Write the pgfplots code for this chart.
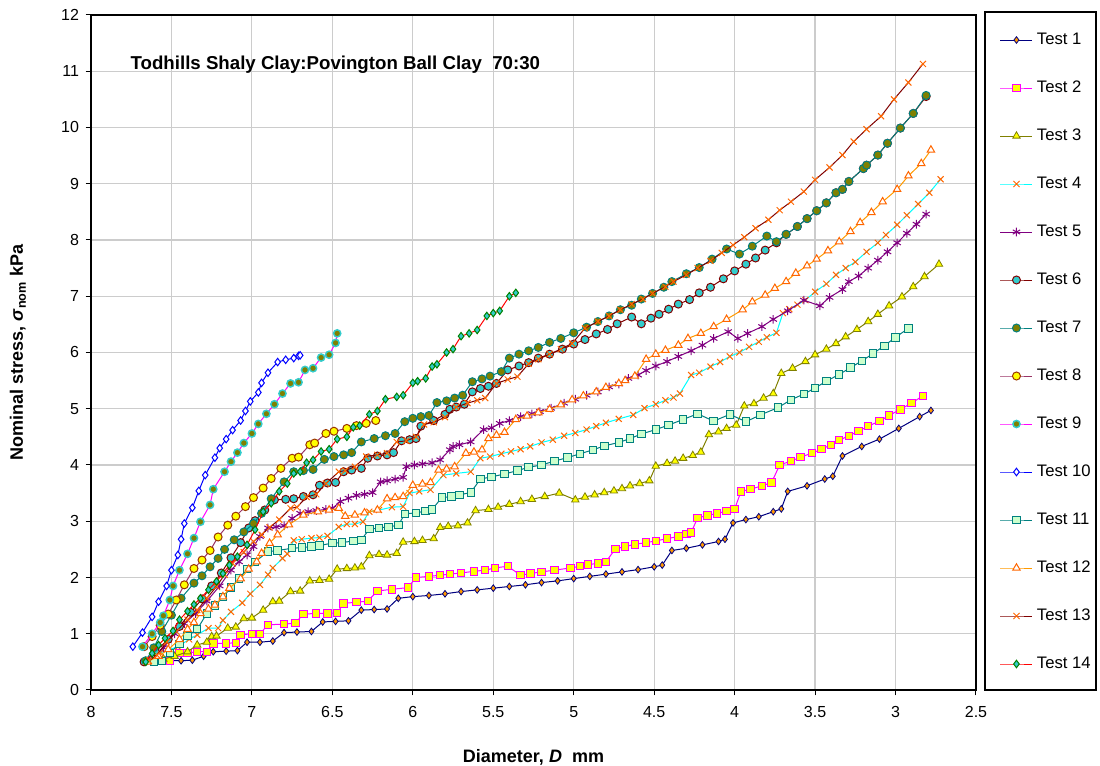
\documentclass[border=0pt]{standalone}
\usepackage{fontspec}
\setmainfont{Liberation Sans}
\usepackage{pgfplots}
\pgfplotsset{compat=1.18}

\definecolor{cNavy}{HTML}{000080}
\definecolor{cOrange}{HTML}{FF9900}
\definecolor{cRedOr}{HTML}{FF6600}
\definecolor{cMagenta}{HTML}{FF00FF}
\definecolor{cYellow}{HTML}{FFFF00}
\definecolor{cOlive}{HTML}{808000}
\definecolor{cCyan}{HTML}{00FFFF}
\definecolor{cPurple}{HTML}{800080}
\definecolor{cDarkRed}{HTML}{800000}
\definecolor{cTeal}{HTML}{008080}
\definecolor{cTurq}{HTML}{33CCCC}
\definecolor{cBrown}{HTML}{993300}
\definecolor{cPlum}{HTML}{993366}
\definecolor{cBlue}{HTML}{0000FF}
\definecolor{cLtGreen}{HTML}{CCFFCC}
\definecolor{cRed}{HTML}{FF0000}
\definecolor{cGreen}{HTML}{008000}

\begin{document}
\begin{tikzpicture}
\useasboundingbox (-68.25pt,-57pt) rectangle (756.75pt,517.5pt);
\begin{axis}[
    scale only axis,
    width=663.75pt, height=506.25pt,
    x dir=reverse,
    xmin=2.5, xmax=8, ymin=0, ymax=12,
    xtick={2.5,3,...,8}, ytick={0,1,...,12},
    /pgf/number format/assume math mode=true,
    tick label style={font=\fontsize{12}{14}\selectfont},
    xticklabel style={yshift=-5pt},
    yticklabel style={xshift=-1.5pt},
    tick align=outside, tick pos=left,
    major tick length=4pt,
    tick style={black, line width=0.75pt},
    axis line style={line width=1.5pt},
    grid=major,
    grid style={gray!40, line width=0.9pt},
    clip mode=individual,
    every axis y label/.style={at={(axis description cs:-0.0825,0.5)}, rotate=90, anchor=center},
    every axis x label/.style={at={(axis description cs:0.5,-0.0993)}, anchor=center},
    label style={font=\fontsize{13.5}{15}\selectfont\bfseries},
    xlabel={Diameter, \textit{D}\ \ mm},
    ylabel={Nominal stress, \textit{σ}\textsubscript{nom} kPa},
    legend style={draw=none, fill=none, at={(rel axis cs:1.0271,0.9748)}, anchor=north west,
        inner sep=0pt, outer sep=0pt, row sep=24pt, column sep=3pt,
        font=\fontsize{12.5}{14}\selectfont,
        nodes={inner sep=0pt, text height=9pt, text depth=3pt}},
    legend cell align=left,
    legend image code/.code={\draw[mark repeat=2,mark phase=2] plot coordinates {(0pt,0pt) (12pt,0pt) (24pt,0pt)};},
    every axis plot/.append style={line width=0.75pt},
]
% Test 1
\addplot[cNavy, mark=diamond*, mark size=2.5pt, mark options={fill=cOrange, draw=cNavy, line width=0.6pt}] coordinates {
(7.52,0.52) (7.44,0.52) (7.37,0.53) (7.30,0.60) (7.24,0.68) (7.16,0.69) (7.09,0.70) (7.03,0.85) (6.95,0.85) (6.87,0.87)
(6.80,1.02) (6.72,1.03) (6.63,1.04) (6.56,1.21) (6.48,1.22) (6.40,1.23) (6.32,1.42) (6.24,1.43) (6.16,1.44) (6.09,1.63)
(6.00,1.66) (5.90,1.68) (5.80,1.71) (5.70,1.75) (5.60,1.78) (5.50,1.81) (5.40,1.84) (5.30,1.87) (5.20,1.91) (5.10,1.94)
(5.00,1.98) (4.90,2.02) (4.80,2.06) (4.70,2.10) (4.60,2.14) (4.50,2.19) (4.45,2.22) (4.39,2.48) (4.30,2.52) (4.20,2.58)
(4.10,2.64) (4.06,2.68) (4.01,2.97) (3.93,3.03) (3.85,3.08) (3.76,3.17) (3.71,3.22) (3.67,3.53) (3.55,3.63) (3.44,3.75)
(3.39,3.80) (3.33,4.16) (3.21,4.33) (3.10,4.46) (2.98,4.65) (2.85,4.86) (2.78,4.97)};
\addlegendentry{Test 1}
% Test 2
\addplot[cMagenta, mark=square*, mark size=2.8pt, mark options={fill=cYellow, draw=cMagenta, line width=0.75pt}] coordinates {
(7.51,0.52) (7.45,0.66) (7.40,0.66) (7.34,0.68) (7.28,0.68) (7.24,0.83) (7.16,0.83) (7.10,0.84) (7.07,0.98) (7.00,1.00)
(6.95,1.00) (6.90,1.16) (6.80,1.17) (6.73,1.19) (6.68,1.35) (6.60,1.36) (6.53,1.36) (6.47,1.37) (6.43,1.54) (6.35,1.56)
(6.28,1.58) (6.22,1.76) (6.13,1.79) (6.03,1.82) (5.98,2.00) (5.90,2.02) (5.83,2.04) (5.77,2.06) (5.70,2.08) (5.62,2.11)
(5.55,2.13) (5.49,2.17) (5.41,2.20) (5.33,2.04) (5.27,2.07) (5.20,2.10) (5.12,2.13) (5.02,2.17) (4.96,2.20) (4.91,2.23)
(4.85,2.25) (4.80,2.28) (4.74,2.51) (4.68,2.55) (4.62,2.59) (4.55,2.62) (4.49,2.65) (4.42,2.69) (4.35,2.73) (4.30,2.77)
(4.27,2.80) (4.23,3.06) (4.17,3.10) (4.11,3.14) (4.05,3.18) (4.00,3.22) (3.96,3.53) (3.90,3.57) (3.83,3.63) (3.77,3.69)
(3.72,4.00) (3.65,4.07) (3.59,4.14) (3.52,4.21) (3.46,4.28) (3.40,4.36) (3.35,4.44) (3.29,4.52) (3.23,4.60) (3.17,4.69)
(3.10,4.78) (3.04,4.88) (2.97,4.99) (2.90,5.10) (2.83,5.23)};
\addlegendentry{Test 2}
% Test 3
\addplot[cOlive, mark=triangle*, mark size=3.2pt, mark options={fill=cYellow, draw=cOlive, line width=0.6pt}] coordinates {
(7.62,0.52) (7.55,0.55) (7.48,0.60) (7.40,0.68) (7.34,0.80) (7.28,0.85) (7.25,0.95) (7.22,0.96) (7.15,1.10) (7.10,1.12)
(7.05,1.27) (7.00,1.28) (6.93,1.42) (6.87,1.57) (6.83,1.58) (6.76,1.75) (6.70,1.76) (6.64,1.94) (6.58,1.95) (6.52,1.97)
(6.47,2.15) (6.41,2.16) (6.36,2.17) (6.32,2.19) (6.27,2.39) (6.21,2.41) (6.16,2.40) (6.10,2.43) (6.06,2.63) (5.99,2.64)
(5.94,2.66) (5.87,2.69) (5.83,2.89) (5.78,2.91) (5.72,2.92) (5.66,2.97) (5.61,3.19) (5.53,3.21) (5.47,3.25) (5.40,3.30)
(5.33,3.35) (5.26,3.39) (5.18,3.44) (5.09,3.50) (4.99,3.38) (4.93,3.43) (4.87,3.47) (4.81,3.51) (4.75,3.54) (4.70,3.58)
(4.65,3.63) (4.59,3.67) (4.53,3.72) (4.49,3.98) (4.42,4.03) (4.37,4.07) (4.32,4.12) (4.26,4.17) (4.21,4.23) (4.16,4.54)
(4.10,4.59) (4.05,4.65) (3.99,4.71) (3.94,5.05) (3.88,5.09) (3.82,5.19) (3.76,5.27) (3.71,5.63) (3.64,5.72) (3.56,5.84)
(3.50,5.96) (3.43,6.06) (3.37,6.16) (3.31,6.28) (3.24,6.41) (3.17,6.55) (3.11,6.68) (3.04,6.83) (2.96,6.99) (2.89,7.17)
(2.82,7.35) (2.73,7.57)};
\addlegendentry{Test 3}
% Test 4
\addplot[cCyan, mark=x, mark size=3.2pt, mark options={draw=cRedOr, line width=0.75pt}] coordinates {
(7.62,0.52) (7.57,0.66) (7.46,0.77) (7.39,0.90) (7.34,0.98) (7.27,1.10) (7.21,1.10) (7.18,1.24) (7.13,1.39) (7.06,1.55)
(7.01,1.71) (6.95,1.87) (6.90,2.05) (6.87,2.17) (6.81,2.34) (6.78,2.42) (6.74,2.66) (6.69,2.68) (6.63,2.70) (6.58,2.71)
(6.53,2.74) (6.46,2.90) (6.41,2.95) (6.36,2.95) (6.31,2.99) (6.27,3.17) (6.21,3.20) (6.13,3.25) (6.06,3.26) (6.02,3.50)
(5.96,3.53) (5.89,3.56) (5.81,3.82) (5.73,3.85) (5.64,3.88) (5.58,4.12) (5.52,4.15) (5.45,4.20) (5.39,4.24) (5.33,4.28)
(5.27,4.33) (5.20,4.40) (5.13,4.45) (5.06,4.52) (4.99,4.57) (4.92,4.63) (4.86,4.69) (4.80,4.75) (4.72,4.82) (4.63,4.89)
(4.56,5.01) (4.49,5.08) (4.43,5.15) (4.38,5.20) (4.34,5.27) (4.27,5.60) (4.22,5.64) (4.15,5.75) (4.09,5.83) (4.03,5.93)
(3.97,6.00) (3.91,6.10) (3.85,6.19) (3.80,6.27) (3.74,6.35) (3.70,6.70) (3.66,6.77) (3.61,6.85) (3.56,6.93) (3.50,7.08)
(3.43,7.22) (3.37,7.38) (3.31,7.50) (3.25,7.61) (3.18,7.79) (3.11,7.95) (3.06,8.09) (2.99,8.27) (2.93,8.44) (2.86,8.64)
(2.79,8.84) (2.72,9.08)};
\addlegendentry{Test 4}
% Test 5
\addplot[cPurple, mark=asterisk, mark size=3.2pt, mark options={draw=cPurple, line width=0.75pt}] coordinates {
(7.62,0.55) (7.55,0.75) (7.48,1.00) (7.42,1.18) (7.35,1.36) (7.28,1.58) (7.20,1.85) (7.13,2.13) (7.08,2.28) (7.03,2.40)
(6.99,2.55) (6.95,2.73) (6.90,2.88) (6.85,2.90) (6.80,2.92) (6.75,3.05) (6.70,3.14) (6.65,3.17) (6.60,3.19) (6.54,3.21)
(6.50,3.23) (6.45,3.35) (6.40,3.41) (6.35,3.46) (6.30,3.48) (6.25,3.51) (6.20,3.70) (6.16,3.72) (6.11,3.75) (6.06,3.78)
(6.04,3.97) (5.99,4.00) (5.94,4.02) (5.88,4.04) (5.83,4.09) (5.77,4.27) (5.75,4.33) (5.71,4.36) (5.64,4.41) (5.56,4.63)
(5.51,4.66) (5.46,4.74) (5.40,4.79) (5.33,4.86) (5.26,4.91) (5.21,4.95) (5.14,5.01) (5.06,5.10) (4.99,5.17) (4.92,5.24)
(4.85,5.30) (4.78,5.39) (4.72,5.44) (4.66,5.54) (4.60,5.60) (4.55,5.68) (4.49,5.76) (4.42,5.84) (4.35,5.93) (4.27,6.03)
(4.20,6.13) (4.13,6.25) (4.04,6.37) (3.98,6.25) (3.92,6.34) (3.83,6.46) (3.76,6.59) (3.67,6.74) (3.57,6.93) (3.47,6.83)
(3.41,6.98) (3.33,7.12) (3.29,7.26) (3.23,7.36) (3.17,7.50) (3.11,7.64) (3.05,7.79) (2.99,7.95) (2.93,8.12) (2.87,8.28)
(2.81,8.46)};
\addlegendentry{Test 5}
% Test 6
\addplot[cDarkRed, mark=*, mark size=3pt, mark options={fill=cTurq, draw=cDarkRed, line width=0.75pt}] coordinates {
(7.67,0.50) (7.60,0.68) (7.52,0.90) (7.45,1.13) (7.38,1.38) (7.31,1.62) (7.25,1.85) (7.19,2.08) (7.13,2.35) (7.07,2.62)
(7.02,2.88) (6.98,3.01) (6.92,3.20) (6.86,3.38) (6.79,3.39) (6.74,3.40) (6.68,3.44) (6.62,3.47) (6.58,3.64) (6.53,3.68)
(6.48,3.69) (6.43,3.88) (6.38,3.91) (6.32,3.94) (6.28,4.12) (6.22,4.16) (6.16,4.18) (6.12,4.22) (6.07,4.43) (6.02,4.45)
(5.98,4.47) (5.95,4.69) (5.87,4.79) (5.80,4.90) (5.77,4.99) (5.73,5.03) (5.68,5.08) (5.63,5.30) (5.58,5.36) (5.53,5.40)
(5.48,5.45) (5.41,5.69) (5.34,5.76) (5.28,5.82) (5.22,5.90) (5.15,5.97) (5.07,6.06) (5.00,6.15) (4.93,6.23) (4.86,6.33)
(4.79,6.41) (4.73,6.51) (4.64,6.63) (4.58,6.51) (4.52,6.61) (4.47,6.68) (4.41,6.77) (4.35,6.86) (4.28,6.94) (4.22,7.06)
(4.15,7.16) (4.07,7.31) (4.00,7.45) (3.93,7.57) (3.87,7.68) (3.81,7.82) (3.74,7.95) (3.68,8.10) (3.61,8.24) (3.55,8.38)
(3.49,8.52) (3.43,8.66) (3.37,8.84) (3.33,8.90) (3.29,9.04) (3.20,9.27) (3.18,9.33) (3.11,9.51) (3.05,9.72) (2.97,9.99)
(2.89,10.25) (2.81,10.55)};
\addlegendentry{Test 6}
% Test 7
\addplot[cTeal, mark=*, mark size=3pt, mark options={fill=cOlive, draw=cTeal, line width=0.75pt}] coordinates {
(7.66,0.52) (7.61,0.75) (7.56,1.04) (7.50,1.33) (7.44,1.63) (7.36,1.90) (7.31,2.03) (7.26,2.19) (7.21,2.34) (7.17,2.50)
(7.11,2.67) (7.05,2.81) (6.99,2.96) (6.94,3.14) (6.88,3.40) (6.80,3.70) (6.74,3.88) (6.68,3.90) (6.62,3.92) (6.55,4.10)
(6.49,4.15) (6.43,4.18) (6.38,4.22) (6.32,4.41) (6.24,4.47) (6.17,4.52) (6.11,4.56) (6.05,4.77) (6.00,4.83) (5.95,4.86)
(5.90,4.88) (5.85,5.11) (5.79,5.14) (5.74,5.19) (5.69,5.24) (5.63,5.48) (5.57,5.53) (5.52,5.58) (5.45,5.66) (5.40,5.90)
(5.34,5.97) (5.28,6.03) (5.22,6.09) (5.15,6.18) (5.08,6.25) (5.00,6.35) (4.92,6.45) (4.85,6.55) (4.78,6.65) (4.71,6.76)
(4.64,6.84) (4.58,6.95) (4.51,7.05) (4.44,7.16) (4.39,7.26) (4.30,7.40) (4.22,7.51) (4.14,7.66) (4.05,7.84) (3.97,7.75)
(3.89,7.89) (3.80,8.07) (3.74,7.97) (3.68,8.10) (3.61,8.24) (3.55,8.38) (3.49,8.52) (3.43,8.66) (3.37,8.84) (3.33,8.90)
(3.29,9.04) (3.20,9.27) (3.18,9.33) (3.11,9.51) (3.05,9.72) (2.97,9.99) (2.89,10.25) (2.81,10.57)};
\addlegendentry{Test 7}
% Test 8
\addplot[cPlum, mark=*, mark size=3pt, mark options={fill=cYellow, draw=cBrown, line width=0.75pt}] coordinates {
(7.67,0.77) (7.62,0.95) (7.57,1.15) (7.52,1.35) (7.47,1.60) (7.42,1.87) (7.36,2.16) (7.31,2.31) (7.26,2.48) (7.21,2.72)
(7.15,2.93) (7.10,3.09) (7.04,3.26) (6.99,3.42) (6.93,3.59) (6.88,3.76) (6.82,3.94) (6.75,4.12) (6.71,4.14) (6.64,4.36)
(6.61,4.39) (6.54,4.56) (6.49,4.60) (6.41,4.65) (6.35,4.70) (6.29,4.74) (6.23,4.79)};
\addlegendentry{Test 8}
% Test 9
\addplot[cMagenta, mark=*, mark size=2.7pt, mark options={fill=cOlive, draw=cTurq, line width=1.1pt}] coordinates {
(7.68,0.77) (7.62,1.00) (7.57,1.20) (7.55,1.32) (7.51,1.60) (7.49,1.85) (7.45,2.13) (7.40,2.42) (7.36,2.70) (7.32,2.99)
(7.26,3.29) (7.24,3.57) (7.17,3.88) (7.13,4.06) (7.09,4.22) (7.05,4.39) (7.00,4.56) (6.96,4.73) (6.91,4.91) (6.86,5.08)
(6.81,5.27) (6.76,5.45) (6.71,5.47) (6.67,5.69) (6.62,5.72) (6.57,5.91) (6.52,5.96) (6.48,6.17) (6.47,6.34)};
\addlegendentry{Test 9}
% Test 10
\addplot[cBlue, mark=diamond*, mark size=2.8pt, mark options={fill=white, draw=cBlue, line width=0.75pt}] coordinates {
(7.74,0.77) (7.68,1.02) (7.62,1.30) (7.58,1.57) (7.53,1.85) (7.50,2.13) (7.46,2.40) (7.44,2.68) (7.42,2.96) (7.37,3.24)
(7.33,3.54) (7.29,3.82) (7.23,4.13) (7.20,4.30) (7.16,4.46) (7.12,4.62) (7.07,4.79) (7.04,4.96) (7.01,5.13) (6.96,5.29)
(6.94,5.46) (6.90,5.64) (6.84,5.83) (6.79,5.87) (6.74,5.90) (6.71,5.94) (6.70,5.95)};
\addlegendentry{Test 10}
% Test 11
\addplot[cTeal, mark=square*, mark size=2.8pt, mark options={fill=cLtGreen, draw=cTeal, line width=0.75pt}] coordinates {
(7.61,0.50) (7.56,0.52) (7.51,0.66) (7.45,0.82) (7.40,0.96) (7.34,1.08) (7.28,1.36) (7.23,1.50) (7.18,1.65) (7.13,1.82)
(7.08,1.98) (7.03,2.15) (6.98,2.28) (6.90,2.46) (6.84,2.48) (6.75,2.52) (6.69,2.53) (6.63,2.55) (6.58,2.57) (6.50,2.61)
(6.44,2.62) (6.37,2.65) (6.32,2.67) (6.27,2.86) (6.21,2.88) (6.15,2.90) (6.09,2.93) (6.05,3.13) (5.98,3.15) (5.92,3.18)
(5.88,3.21) (5.82,3.42) (5.76,3.44) (5.71,3.47) (5.64,3.51) (5.58,3.75) (5.51,3.79) (5.43,3.84) (5.35,3.90) (5.28,3.96)
(5.20,4.00) (5.12,4.07) (5.04,4.13) (4.96,4.20) (4.88,4.27) (4.81,4.34) (4.72,4.40) (4.65,4.47) (4.58,4.55) (4.49,4.63)
(4.41,4.71) (4.32,4.81) (4.23,4.91) (4.13,4.78) (4.03,4.90) (3.93,4.77) (3.84,4.89) (3.73,5.02) (3.65,5.16) (3.57,5.26)
(3.50,5.37) (3.43,5.49) (3.35,5.61) (3.28,5.73) (3.21,5.85) (3.14,5.98) (3.07,6.12) (3.00,6.27) (2.92,6.43)};
\addlegendentry{Test 11}
% Test 12
\addplot[cOrange, mark=triangle*, mark size=3.2pt, mark options={fill=white, draw=cRedOr, line width=0.75pt}] coordinates {
(7.65,0.50) (7.58,0.60) (7.52,0.72) (7.45,0.90) (7.40,1.08) (7.36,1.20) (7.32,1.36) (7.27,1.44) (7.23,1.51) (7.18,1.66)
(7.14,1.81) (7.07,1.98) (7.02,2.15) (6.97,2.28) (6.94,2.43) (6.89,2.61) (6.84,2.76) (6.77,2.94) (6.68,3.11) (6.59,3.17)
(6.52,3.20) (6.46,3.23) (6.42,3.09) (6.36,3.11) (6.30,3.15) (6.22,3.20) (6.16,3.40) (6.11,3.42) (6.06,3.44) (6.00,3.64)
(5.94,3.66) (5.89,3.69) (5.84,3.91) (5.79,3.93) (5.74,3.97) (5.67,4.21) (5.62,4.23) (5.57,4.27) (5.53,4.47) (5.48,4.53)
(5.43,4.58) (5.36,4.81) (5.29,4.87) (5.22,4.93) (5.15,4.99) (5.08,5.07) (5.01,5.16) (4.94,5.23) (4.86,5.30) (4.80,5.38)
(4.72,5.45) (4.68,5.50) (4.62,5.58) (4.55,5.88) (4.49,5.97) (4.43,6.04) (4.35,6.13) (4.29,6.25) (4.21,6.34) (4.13,6.46)
(4.05,6.59) (3.95,6.76) (3.89,6.90) (3.81,7.02) (3.75,7.14) (3.68,7.26) (3.62,7.41) (3.55,7.54) (3.49,7.66) (3.42,7.81)
(3.35,7.97) (3.28,8.15) (3.22,8.31) (3.15,8.49) (3.08,8.68) (2.99,8.90) (2.92,9.14) (2.84,9.36) (2.78,9.60)};
\addlegendentry{Test 12}
% Test 13
\addplot[cDarkRed, mark=x, mark size=3.2pt, mark options={draw=cRedOr, line width=0.75pt}] coordinates {
(7.64,0.52) (7.59,0.62) (7.53,0.85) (7.47,1.04) (7.40,1.25) (7.34,1.42) (7.28,1.63) (7.22,1.84) (7.17,2.05) (7.12,2.25)
(7.05,2.45) (6.99,2.64) (6.94,2.76) (6.89,2.89) (6.83,3.03) (6.76,3.23) (6.72,3.25) (6.66,3.43) (6.60,3.48) (6.54,3.67)
(6.46,3.88) (6.42,3.90) (6.36,3.97) (6.29,4.15) (6.22,4.18) (6.16,4.21) (6.10,4.41) (6.04,4.43) (5.98,4.50) (5.93,4.72)
(5.87,4.76) (5.80,4.85) (5.73,5.03) (5.66,5.10) (5.60,5.15) (5.55,5.19) (5.48,5.45) (5.41,5.52) (5.35,5.57) (5.28,5.80)
(5.22,5.88) (5.15,5.97) (5.08,6.06) (5.01,6.16) (4.93,6.43) (4.85,6.55) (4.78,6.65) (4.71,6.76) (4.64,6.86) (4.57,6.95)
(4.51,7.05) (4.43,7.17) (4.38,7.26) (4.30,7.38) (4.23,7.50) (4.15,7.63) (4.08,7.77) (4.01,7.91) (3.94,8.05) (3.87,8.21)
(3.79,8.36) (3.72,8.53) (3.65,8.68) (3.57,8.86) (3.50,9.07) (3.41,9.29) (3.33,9.51) (3.26,9.75) (3.18,9.97) (3.09,10.20)
(3.01,10.50) (2.92,10.80) (2.83,11.13)};
\addlegendentry{Test 13}
% Test 14
\addplot[cRed, mark=diamond*, mark size=2.8pt, mark options={fill=cTurq, draw=cGreen, line width=0.75pt}] coordinates {
(7.66,0.50) (7.62,0.65) (7.58,0.80) (7.54,0.92) (7.49,1.05) (7.45,1.25) (7.40,1.40) (7.36,1.52) (7.32,1.63) (7.27,1.78)
(7.22,1.93) (7.18,2.07) (7.14,2.22) (7.09,2.37) (7.03,2.58) (6.98,2.85) (6.93,3.17) (6.88,3.32) (6.83,3.53) (6.78,3.67)
(6.74,3.85) (6.70,3.88) (6.66,4.04) (6.62,4.09) (6.57,4.24) (6.52,4.28) (6.47,4.46) (6.41,4.50) (6.37,4.67) (6.33,4.70)
(6.27,4.90) (6.22,4.96) (6.17,5.17) (6.10,5.21) (6.06,5.24) (6.00,5.46) (5.97,5.49) (5.92,5.54) (5.88,5.75) (5.85,5.79)
(5.79,6.00) (5.75,6.06) (5.70,6.29) (5.65,6.34) (5.60,6.40) (5.54,6.65) (5.50,6.70) (5.46,6.74) (5.40,7.00) (5.36,7.06)};
\addlegendentry{Test 14}
% legend frame and chart title
\draw[line width=1.5pt] (rel axis cs:1.0102,0) rectangle (rel axis cs:1.1356,1.0044);
\node[anchor=west, font=\fontsize{14}{16}\selectfont\bfseries] at (rel axis cs:0.0395,0.9259)
    {Todhills Shaly Clay:Povington Ball Clay\ \ 70:30};
\end{axis}
\end{tikzpicture}
\end{document}
